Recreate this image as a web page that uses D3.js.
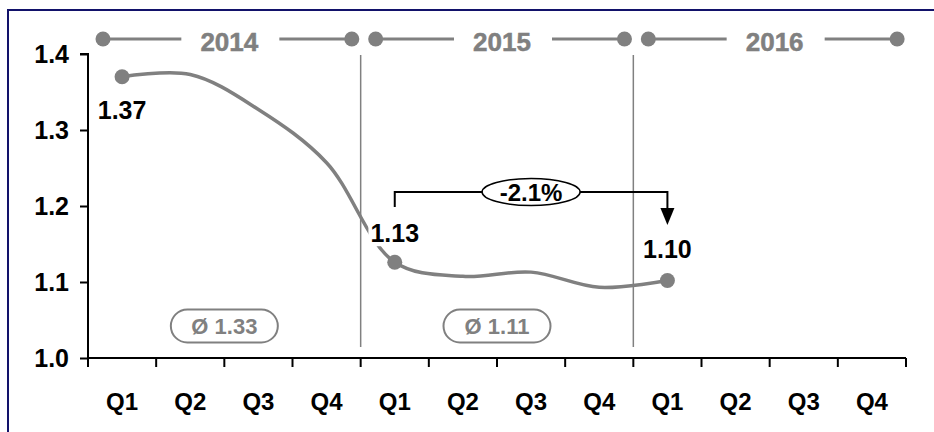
<!DOCTYPE html>
<html>
<head>
<meta charset="utf-8">
<script src="https://cdn.jsdelivr.net/npm/d3@7"></script>
<style>
  body { margin: 0; background: #fff; }
  svg text { font-family: "Liberation Sans", Arial, sans-serif; font-weight: bold; }
</style>
</head>
<body>
<svg id="chart" width="934" height="432"></svg>
<script>
// quarters on the x axis, grouped by year
const quarters = ['Q1', 'Q2', 'Q3', 'Q4', 'Q1', 'Q2', 'Q3', 'Q4', 'Q1', 'Q2', 'Q3', 'Q4'];
const years = ['2014', '2015', '2016'];
const values = [1.370, 1.373, 1.327, 1.257, 1.126, 1.1075, 1.113, 1.093, 1.102];
const yTicks = [1.0, 1.1, 1.2, 1.3, 1.4];
const labelled = [0, 4, 8];          // points that get a value label
const changeFrom = 4, changeTo = 8;  // -2.1% bracket

const grey = '#808080';
const svg = d3.select('#chart');

// frame (cut off at right/bottom like the original slide crop)
svg.append('rect')
  .attr('x', 8).attr('y', 10)
  .attr('width', 960).attr('height', 460)
  .attr('fill', 'none')
  .attr('stroke', '#12126a')
  .attr('stroke-width', 2);

const x = d3.scaleBand()
  .domain(d3.range(quarters.length))
  .range([88, 906]);

const y = d3.scaleLinear()
  .domain([1.0, 1.4])
  .range([358, 54]);

const step = x.step();
const cx = i => x(i) + x.bandwidth() / 2;

// y axis
const yAxis = svg.append('g')
  .attr('transform', 'translate(88,0)')
  .call(d3.axisLeft(y).tickValues(yTicks).tickFormat(d3.format('.1f')).tickSize(8).tickPadding(11));
yAxis.select('.domain').attr('d', `M-8,${y(1.4)}H0V${y(1.0)}`).attr('stroke', '#000').attr('stroke-width', 2);
yAxis.selectAll('.tick line').attr('stroke', '#000').attr('stroke-width', 2);
yAxis.selectAll('.tick text').attr('font-size', 25).attr('fill', '#000');

// x axis: boundary ticks + centered quarter labels
const bounds = d3.range(quarters.length + 1).map(i => 88 + i * step);
const xTicks = svg.append('g').attr('transform', `translate(0,${y(1.0)})`);
xTicks.append('line')
  .attr('x1', bounds[0]).attr('x2', bounds[bounds.length - 1])
  .attr('stroke', '#000').attr('stroke-width', 2);
xTicks.selectAll('.bt')
  .data(bounds)
  .enter().append('line')
  .attr('x1', d => d).attr('x2', d => d)
  .attr('y1', 0).attr('y2', 9)
  .attr('stroke', '#000').attr('stroke-width', 2);
xTicks.selectAll('.ql')
  .data(quarters)
  .enter().append('text')
  .attr('x', (d, i) => cx(i))
  .attr('y', 52)
  .attr('text-anchor', 'middle')
  .attr('font-size', 24)
  .text(d => d);

// year separators
svg.selectAll('.sep')
  .data(d3.range(1, years.length))
  .enter().append('line')
  .attr('x1', i => x(i * 4)).attr('x2', i => x(i * 4))
  .attr('y1', 55).attr('y2', 347)
  .attr('stroke', grey).attr('stroke-width', 1.5);

// year header bars
const hdr = svg.append('g');
years.forEach((yr, k) => {
  const start = x(k * 4);
  const end = start + 4 * step;
  const a = start + 0.22 * step, b = end - 0.13 * step;
  const mid = (start + end) / 2 + 5;
  const hy = 39;
  hdr.append('line').attr('x1', a).attr('x2', mid - 48).attr('y1', hy).attr('y2', hy)
    .attr('stroke', grey).attr('stroke-width', 3);
  hdr.append('line').attr('x1', mid + 50).attr('x2', b).attr('y1', hy).attr('y2', hy)
    .attr('stroke', grey).attr('stroke-width', 3);
  hdr.selectAll(null).data([a, b]).enter().append('circle')
    .attr('cx', d => d).attr('cy', hy).attr('r', 7.5).attr('fill', grey);
  hdr.append('text').attr('x', mid).attr('y', hy + 12)
    .attr('text-anchor', 'middle').attr('font-size', 26).attr('fill', grey)
    .attr('stroke', grey).attr('stroke-width', 0.5)
    .text(yr);
});

// average pills
years.forEach((yr, k) => {
  const vals = values.slice(k * 4, k * 4 + 4);
  if (vals.length < 4) return;
  const mid = x(k * 4) + 2 * step;
  const g = svg.append('g').attr('transform', `translate(${mid},326)`);
  g.append('rect').attr('x', -53.5).attr('y', -16.5).attr('width', 107).attr('height', 33)
    .attr('rx', 16.5).attr('fill', '#fff').attr('stroke', grey).attr('stroke-width', 2);
  g.append('text').attr('y', 8).attr('text-anchor', 'middle')
    .attr('font-size', 22).attr('fill', grey)
    .text('Ø ' + d3.format('.2f')(d3.mean(vals)));
});

// line
const line = d3.line()
  .x((d, i) => cx(i))
  .y(d => y(d))
  .curve(d3.curveCatmullRom);

svg.append('path')
  .datum(values)
  .attr('d', line)
  .attr('fill', 'none')
  .attr('stroke', grey)
  .attr('stroke-width', 3.5);

// value labels with white background
labelled.forEach((i, n) => {
  const ty = n === 0 ? y(values[i]) + 42 : y(values[i]) - (n === 1 ? 20 : 22);
  const g = svg.append('g');
  const t = g.append('text').attr('x', cx(i)).attr('y', ty)
    .attr('text-anchor', 'middle').attr('font-size', 25).attr('fill', '#000')
    .text(d3.format('.2f')(values[i]));
  const bb = t.node().getBBox();
  g.insert('rect', 'text').attr('x', bb.x - 2).attr('y', bb.y + 3)
    .attr('width', bb.width + 4).attr('height', bb.height - 4).attr('fill', '#fff');
});

svg.selectAll('.pt')
  .data(labelled)
  .enter().append('circle')
  .attr('cx', i => cx(i))
  .attr('cy', i => y(values[i]))
  .attr('r', 7.5)
  .attr('fill', grey);

// change bracket
const bx1 = cx(changeFrom), bx2 = cx(changeTo), by = 192;
svg.append('path')
  .attr('d', `M${bx1},${by + 15}V${by}H${bx2}V${by + 17}`)
  .attr('fill', 'none').attr('stroke', '#000').attr('stroke-width', 2);
svg.append('path')
  .attr('d', `M${bx2 - 7},${by + 16}L${bx2 + 7},${by + 16}L${bx2},${by + 33}Z`)
  .attr('fill', '#000');
const pct = values[changeTo] / values[changeFrom] - 1;
const em = svg.append('g').attr('transform', `translate(${(bx1 + bx2) / 2},${by})`);
em.append('ellipse').attr('rx', 49).attr('ry', 13.5)
  .attr('fill', '#fff').attr('stroke', '#000').attr('stroke-width', 1.5);
em.append('text').attr('y', 8.5).attr('text-anchor', 'middle').attr('font-size', 24)
  .text(d3.format('.1%')(pct).replace('−', '-'));
</script>
</body>
</html>
